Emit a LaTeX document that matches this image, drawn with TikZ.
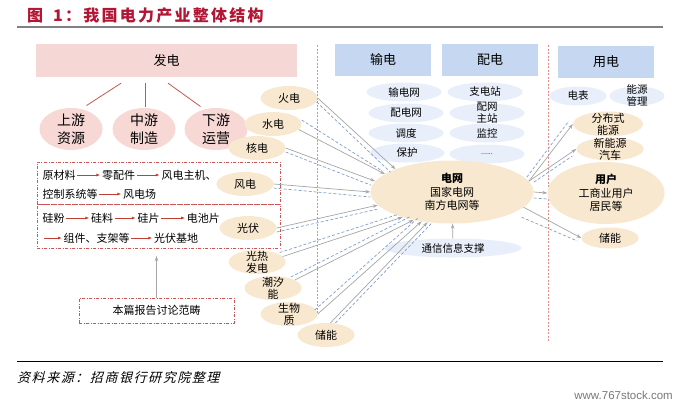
\documentclass[tikz,border=0pt]{standalone}
\usepackage{fontspec}
\setmainfont{Noto Sans CJK SC}
\newfontfamily\titlefont[LetterSpace=14]{Noto Sans CJK SC}
\newfontfamily\srcfont[FakeSlant=0.25,LetterSpace=12]{Noto Sans CJK SC}
\newfontfamily\wmfont{Liberation Sans}
\usetikzlibrary{shapes.geometric,arrows.meta,positioning}

\definecolor{titlered}{RGB}{178,22,52}
\definecolor{rulegray}{RGB}{128,128,128}
\definecolor{headpink}{RGB}{245,215,214}
\definecolor{ellpink}{RGB}{247,216,213}
\definecolor{beige}{RGB}{248,232,208}
\definecolor{headblue}{RGB}{198,216,241}
\definecolor{paleblue}{RGB}{233,239,250}
\definecolor{branchred}{RGB}{196,88,76}
\definecolor{chainred}{RGB}{192,64,52}
\definecolor{boxred}{RGB}{204,84,84}
\definecolor{divred}{RGB}{226,140,140}
\definecolor{arrgray}{RGB}{165,165,165}
\definecolor{dashblue}{RGB}{128,158,204}
\definecolor{wmgray}{RGB}{120,120,120}

\begin{document}
\begin{tikzpicture}[x=1pt, y=-1pt, line join=bevel,
  genhead/.style={fill=headpink, minimum width=261pt, minimum height=33pt, inner sep=0pt, font=\fontsize{13}{13}\selectfont},
  bluehead/.style={fill=headblue, minimum width=96pt, minimum height=32pt, inner sep=0pt, font=\fontsize{13}{13}\selectfont},
  upell/.style={ellipse, fill=ellpink, minimum width=63pt, minimum height=42pt, inner sep=0pt, inner ysep=-6pt, align=center, font=\fontsize{14}{18}\selectfont},
  src/.style={ellipse, fill=beige, minimum width=57pt, minimum height=24pt, inner sep=0pt, align=center, font=\fontsize{11}{12}\selectfont},
  lb/.style={ellipse, fill=paleblue, minimum width=75pt, minimum height=19pt, inner sep=0pt, align=center, font=\fontsize{10.5}{12}\selectfont},
  big/.style={ellipse, fill=beige, minimum width=163pt, minimum height=63pt, inner sep=0pt, align=center, font=\fontsize{11}{13.5}\selectfont},
  flat/.style={inner ysep=-6pt},
  chaintext/.style={inner sep=0.5pt, font=\fontsize{11}{11}\selectfont},
  chain/.style={draw=chainred, line width=0.8pt, -{Latex[length=4pt,width=3pt]}, shorten <=1pt, shorten >=1pt},
  branch/.style={draw=branchred, line width=0.8pt},
  scopebox/.style={draw=boxred, line width=0.7pt, dash pattern=on 3pt off 1.5pt on 1pt off 1.5pt},
  divider/.style={draw=divred, line width=0.8pt, dash pattern=on 2pt off 1.5pt},
  flow/.style={draw=arrgray, line width=0.7pt, -{Stealth[length=5pt,width=3.5pt]}},
  back/.style={draw=dashblue, line width=0.7pt, dash pattern=on 3pt off 2pt}]

\useasboundingbox (0,0) rectangle (684,407);

% title
\node[anchor=west, inner sep=0pt, text=titlered, font=\titlefont\bfseries\fontsize{16}{16}\selectfont] (title) at (27,15) {图\hspace{10pt}1：我国电力产业整体结构};
\draw[line width=2pt, draw=rulegray] (17,27) -- (663,27);

% generation side
\node[genhead] (gen) at (166.5,60.5) {发电};
\node[upell] (up) at (71,129) {上游\\资源};
\node[upell] (mid) at (144,129) {中游\\制造};
\node[upell] (down) at (216,129) {下游\\运营};
\draw[branch] ([xshift=-45.5pt,yshift=-6pt]gen.south) -- ([yshift=5pt]up.50);
\draw[branch] ([xshift=-21.5pt,yshift=-6pt]gen.south) -- ([xshift=1pt,yshift=1pt]mid.north);
\draw[branch] ([xshift=1.5pt,yshift=-6pt]gen.south) -- ([yshift=4pt]down.130);

% scope boxes
\node[scopebox, minimum width=243pt, minimum height=42pt] (windbox) at (158.5,183) {};
\node[scopebox, minimum width=243pt, minimum height=44pt] (pvbox) at (158.5,226) {};

\node[chaintext, anchor=west] (ycl) at (42,175) {原材料};
\node[chaintext, right=25pt of ycl] (ljp) {零配件};
\node[chaintext, right=25pt of ljp] (zjj) {风电主机、};
\node[chaintext, anchor=west] (kz) at (42,194) {控制系统等};
\node[chaintext, right=24pt of kz] (fdc) {风电场};
\draw[chain] (ycl) -- (ljp);
\draw[chain] (ljp) -- (zjj);
\draw[chain] (kz) -- (fdc);

\node[chaintext, anchor=west] (gfen) at (42,218) {硅粉};
\node[chaintext, right=25pt of gfen] (gliao) {硅料};
\node[chaintext, right=23pt of gliao] (gpian) {硅片};
\node[chaintext, right=26pt of gpian] (dcp) {电池片};
\coordinate (pvstart) at (43,238);
\node[chaintext, right=20pt of pvstart] (zjzj) {组件、支架等};
\node[chaintext, right=23pt of zjzj] (gfjd) {光伏基地};
\draw[chain] (gfen) -- (gliao);
\draw[chain] (gliao) -- (gpian);
\draw[chain] (gpian) -- (dcp);
\draw[chain] (pvstart) -- (zjzj);
\draw[chain] (zjzj) -- (gfjd);

\node[scopebox, minimum width=155pt, minimum height=25pt, font=\fontsize{11}{11}\selectfont] (scope) at (156.5,310.5) {本篇报告讨论范畴};
\coordinate (scopetip) at (156.5,256);
\draw[flow] (scope) -- (scopetip);

% dividers
\draw[divider] (317,45) -- (317,313);
\draw[divider] (548,45) -- (548,342);

% sources
\node[src] (huo) at (289,98) {火电};
\node[src] (shui) at (273,124) {水电};
\node[src] (he) at (257,148) {核电};
\node[src] (feng) at (245,184) {风电};
\node[src] (gf) at (248,228) {光伏};
\node[src, flat] (gr) at (257,262) {光热\\发电};
\node[src, flat] (cx) at (273,288) {潮汐\\能};
\node[src, flat] (sw) at (289,314) {生物\\质};
\node[src] (cn) at (326,335) {储能};

% transmission / distribution / use
\node[bluehead] (shu) at (383,60) {输电};
\node[bluehead] (pei) at (490,60) {配电};
\node[bluehead] (yong) at (606,62) {用电};

\node[lb] (sdw) at (404,92) {输电网};
\node[lb] (pdw) at (406,113) {配电网};
\node[lb] (dd) at (406,133) {调度};
\node[lb] (bh) at (407,153) {保护};
\node[lb] (zdz) at (485,92) {支电站};
\node[lb, flat] (pwzz) at (487,113) {配网\\主站};
\node[lb] (jk) at (487,133) {监控};
\node[lb, font=\fontsize{7}{7}\selectfont] (etc) at (487,154) {......};
\node[lb, minimum width=57pt] (db) at (578,96) {电表};
\node[lb, flat, minimum width=55pt] (nygl) at (637,96) {能源\\管理};
\node[lb, minimum width=137pt] (txzc) at (453,248) {通信信息支撑};

\node[big] (grid) at (452,192) {\textbf{电网}\\国家电网\\南方电网等};
\node[big, minimum width=117pt, minimum height=62pt] (user) at (606,193) {\textbf{用户}\\工商业用户\\居民等};
\node[src, flat, minimum width=70pt, minimum height=25pt] (fbs) at (608,124) {分布式\\能源};
\node[src, flat, minimum width=67pt, minimum height=23pt] (xny) at (610,149) {新能源\\汽车};
\node[src, minimum height=21pt] (cnr) at (610,238) {储能};

\draw[flow] (txzc) -- (grid);

% into the grid
\draw[flow] (huo.east) -- (grid.158);
\draw[back] ([xshift=-1pt,yshift=-4pt]huo.east) -- ([xshift=-5pt,yshift=-3pt]grid.158);
\draw[flow] (shui.-12) -- (grid.165);
\draw[back] ([yshift=4pt]shui.east) -- ([xshift=-4pt,yshift=4pt]grid.165);
\draw[flow] (he.east) -- (grid.172);
\draw[back] ([yshift=-4pt]he.east) -- ([xshift=-4pt,yshift=-4pt]grid.172);
\draw[flow] (feng.east) -- (grid.180);
\draw[back] ([yshift=-4pt]feng.east) -- ([yshift=-5pt]grid.180);
\draw[flow] (gf.east) -- (grid.190);
\draw[back] ([yshift=-4pt]gf.east) -- ([yshift=-4pt]grid.190);
\draw[flow] (gr.12) -- (grid.207);
\draw[back] ([xshift=-3pt,yshift=4pt]gr.12) -- ([xshift=-4pt,yshift=3pt]grid.207);
\draw[flow] (cx.20) -- (grid.216);
\draw[back] ([xshift=-4pt,yshift=3pt]cx.20) -- ([xshift=-4pt,yshift=3pt]grid.216);
\draw[flow] (sw.east) -- (grid.224);
\draw[back] ([xshift=-3pt,yshift=4pt]sw.east) -- ([xshift=-4pt,yshift=3pt]grid.224);
\draw[flow] (cn.70) -- (grid.231);
\draw[back] ([xshift=5pt]cn.70) -- ([xshift=5pt]grid.231);

% out of the grid
\draw[flow] (grid.8) -- (fbs.west);
\draw[back] ([xshift=-2pt,yshift=4pt]grid.8) -- ([xshift=-4pt,yshift=3pt]fbs.west);
\draw[flow] (grid.8) -- (xny.west);
\draw[back] ([xshift=5pt,yshift=-1pt]grid.8) -- ([xshift=-4pt,yshift=-7pt]xny.west);
\draw[flow] (grid.east) -- (user.west);
\draw[back] ([yshift=-6pt]grid.east) -- ([yshift=-6pt]user.west);
\draw[flow] (grid.-12) -- (cnr.west);
\draw[back] ([xshift=-2pt,yshift=-10pt]grid.-12) -- ([xshift=-4pt,yshift=-3pt]cnr.west);

% source line
\draw[line width=1pt] (17,361) -- (663,361);
\node[anchor=west, inner sep=0pt, font=\srcfont\fontsize{13}{13}\selectfont] (source) at (17,378) {资料来源：招商银行研究院整理};
\node[anchor=east, inner sep=0pt, text=wmgray, font=\wmfont\fontsize{11.5}{11.5}\selectfont] (wm) at (673,395) {www.767stock.com};
\end{tikzpicture}
\end{document}
